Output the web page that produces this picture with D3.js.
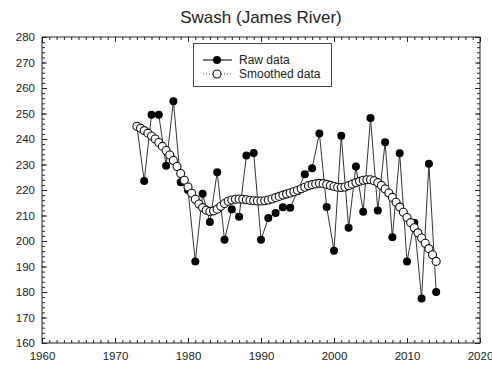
<!DOCTYPE html>
<html>
<head>
<meta charset="utf-8">
<script src="https://cdn.jsdelivr.net/npm/d3@7"></script>
<style>
  html, body { margin: 0; padding: 0; background: #fff; }
  svg { display: block; font-family: "Liberation Sans", Arial, sans-serif; }
</style>
</head>
<body>
<svg id="chart" width="492" height="365"></svg>
<script>
// Annual swash measurements
const rawYears = [1973,1974,1975,1976,1977,1978,1979,1980,1981,1982,1983,1984,1985,1986,1987,1988,1989,1990,1991,1992,1993,1994,1995,1996,1997,1998,1999,2000,2001,2002,2003,2004,2005,2006,2007,2008,2009,2010,2011,2012,2013,2014];
const rawValues = [245,223.5,249.5,249.5,229.5,254.8,223,220,192,218.5,207.5,227,200.5,212.5,209.5,233.5,234.5,200.5,209,211,213.2,213,219.5,226.2,228.5,242.2,213.3,196.2,241.3,205.2,229.2,211.5,248.2,212,238.7,201.5,234.4,192,207.2,177.5,230.3,180];

// Smoothed curve, sampled every half year
const smoothYears = [1973,1973.5,1974,1974.5,1975,1975.5,1976,1976.5,1977,1977.5,1978,1978.5,1979,1979.5,1980,1980.5,1981,1981.5,1982,1982.5,1983,1983.5,1984,1984.5,1985,1985.5,1986,1986.5,1987,1987.5,1988,1988.5,1989,1989.5,1990,1990.5,1991,1991.5,1992,1992.5,1993,1993.5,1994,1994.5,1995,1995.5,1996,1996.5,1997,1997.5,1998,1998.5,1999,1999.5,2000,2000.5,2001,2001.5,2002,2002.5,2003,2003.5,2004,2004.5,2005,2005.5,2006,2006.5,2007,2007.5,2008,2008.5,2009,2009.5,2010,2010.5,2011,2011.5,2012,2012.5,2013,2013.5,2014];
const smoothValues = [245.0,244.2,243.3,242.3,241.2,240.0,238.6,237.1,235.5,233.7,231.6,229.2,226.5,223.8,221.2,218.7,216.4,214.5,213.1,212.1,211.6,211.8,212.5,213.6,214.7,215.6,216.1,216.4,216.5,216.4,216.2,216.0,215.8,215.7,215.7,215.8,216.1,216.5,217.0,217.5,218.0,218.4,218.8,219.3,219.9,220.5,221.1,221.7,222.1,222.4,222.6,222.5,222.2,221.8,221.4,221.1,221.0,221.2,221.7,222.3,222.9,223.4,223.8,224.0,224.0,223.6,222.9,221.8,220.4,218.8,217.1,215.2,213.3,211.3,209.2,207.2,205.2,203.2,201.2,199.1,197.0,194.6,192.0];

const xTicks = [1960,1970,1980,1990,2000,2010,2020];
const yTicks = [160,170,180,190,200,210,220,230,240,250,260,270,280];

const svg = d3.select("#chart");
const plotLeft = 42, plotRight = 480, plotTop = 37, plotBottom = 343;

const x = d3.scaleLinear().domain([1960, 2020]).range([plotLeft, plotRight]);
const y = d3.scaleLinear().domain([160, 280]).range([plotBottom, plotTop]);

// Title
svg.append("text")
  .attr("x", 261).attr("y", 23)
  .attr("text-anchor", "middle")
  .attr("font-size", 17)
  .attr("fill", "#222")
  .text("Swash (James River)");

// Minor tick positions
const xMinor = d3.range(1960, 2021, 1);
const yMinor = d3.range(160, 281, 2);

function styleAxis(g) {
  g.select(".domain").remove();
  g.selectAll(".tick line").attr("stroke", "#222");
  g.selectAll(".tick text").attr("fill", "#222").attr("font-size", 11.5)
   .attr("font-family", "Liberation Sans, Arial, sans-serif");
}

// Inward ticks on all four sides
svg.append("g").attr("transform", `translate(0,${plotBottom})`)
  .call(d3.axisBottom(x).tickValues(xMinor).tickSize(-3).tickFormat(""))
  .call(styleAxis);
svg.append("g").attr("transform", `translate(0,${plotBottom})`)
  .call(d3.axisBottom(x).tickValues(xTicks).tickSize(-5).tickPadding(9).tickFormat(d3.format("d")))
  .call(styleAxis);
svg.append("g").attr("transform", `translate(0,${plotTop})`)
  .call(d3.axisTop(x).tickValues(xMinor).tickSize(-3).tickFormat(""))
  .call(styleAxis);
svg.append("g").attr("transform", `translate(0,${plotTop})`)
  .call(d3.axisTop(x).tickValues(xTicks).tickSize(-5).tickFormat(""))
  .call(styleAxis);
svg.append("g").attr("transform", `translate(${plotLeft},0)`)
  .call(d3.axisLeft(y).tickValues(yMinor).tickSize(-3).tickFormat(""))
  .call(styleAxis);
svg.append("g").attr("transform", `translate(${plotLeft},0)`)
  .call(d3.axisLeft(y).tickValues(yTicks).tickSize(-5).tickPadding(7).tickFormat(d3.format("d")))
  .call(styleAxis);
svg.append("g").attr("transform", `translate(${plotRight},0)`)
  .call(d3.axisRight(y).tickValues(yMinor).tickSize(-3).tickFormat(""))
  .call(styleAxis);
svg.append("g").attr("transform", `translate(${plotRight},0)`)
  .call(d3.axisRight(y).tickValues(yTicks).tickSize(-5).tickFormat(""))
  .call(styleAxis);

// Frame
svg.append("rect")
  .attr("x", plotLeft).attr("y", plotTop)
  .attr("width", plotRight - plotLeft).attr("height", plotBottom - plotTop)
  .attr("fill", "none").attr("stroke", "#222").attr("stroke-width", 1);

const raw = rawYears.map((yr, i) => ({ yr, v: rawValues[i] }));
const smooth = smoothYears.map((yr, i) => ({ yr, v: smoothValues[i] }));
const line = d3.line().x(d => x(d.yr)).y(d => y(d.v));

// Raw data
svg.append("path").datum(raw)
  .attr("d", line).attr("fill", "none")
  .attr("stroke", "#333").attr("stroke-width", 1);
svg.append("g").selectAll("circle").data(raw).join("circle")
  .attr("cx", d => x(d.yr)).attr("cy", d => y(d.v)).attr("r", 4)
  .attr("fill", "#000");

// Smoothed data
svg.append("path").datum(smooth)
  .attr("d", line).attr("fill", "none")
  .attr("stroke", "#555").attr("stroke-width", 1).attr("stroke-dasharray", "1,2");
svg.append("g").selectAll("circle").data(smooth).join("circle")
  .attr("cx", d => x(d.yr)).attr("cy", d => y(d.v)).attr("r", 4)
  .attr("fill", "#fff").attr("stroke", "#111").attr("stroke-width", 1.1);

// Legend
const lg = svg.append("g");
lg.append("rect").attr("x", 193.5).attr("y", 43.5).attr("width", 138).attr("height", 43)
  .attr("fill", "#fff").attr("stroke", "#444").attr("stroke-width", 1);
lg.append("line").attr("x1", 203).attr("x2", 232).attr("y1", 60).attr("y2", 60)
  .attr("stroke", "#222").attr("stroke-width", 1.2);
lg.append("circle").attr("cx", 217).attr("cy", 60).attr("r", 4).attr("fill", "#000");
lg.append("text").attr("x", 239).attr("y", 64).attr("font-size", 12).attr("fill", "#222").text("Raw data");
lg.append("line").attr("x1", 203).attr("x2", 232).attr("y1", 74).attr("y2", 74)
  .attr("stroke", "#555").attr("stroke-width", 1).attr("stroke-dasharray", "1,2");
lg.append("circle").attr("cx", 217).attr("cy", 74).attr("r", 4)
  .attr("fill", "#fff").attr("stroke", "#111").attr("stroke-width", 1.1);
lg.append("text").attr("x", 239).attr("y", 78).attr("font-size", 12).attr("fill", "#222").text("Smoothed data");
</script>
</body>
</html>
